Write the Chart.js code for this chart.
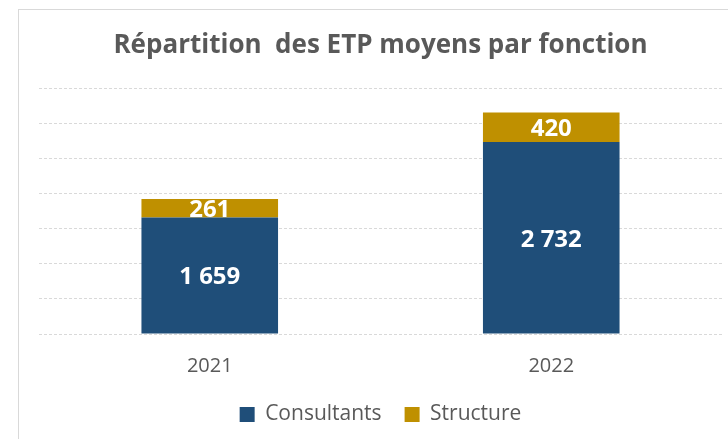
<!DOCTYPE html>
<html>
<head>
<meta charset="utf-8">
<script src="https://cdn.jsdelivr.net/npm/chart.js@4/dist/chart.umd.min.js"></script>
<style>
  html, body { margin: 0; padding: 0; background: #ffffff; overflow: hidden; }
  #frame { position: absolute; left: 18px; top: 9px; width: 760px; height: 460px; border: 1px solid #d9d9d9; box-sizing: border-box; }
  #c { position: absolute; left: 0; top: 0; }
</style>
</head>
<body>
<div id="frame"></div>
<canvas id="c" width="728" height="439"></canvas>
<script>
const categories = ['2021', '2022'];
const consultants = [1659, 2732];
const structure = [261, 420];
const seriesNames = ['Consultants', 'Structure'];
const chartTitle = 'Répartition  des ETP moyens par fonction';

const fmt = v => String(v).replace(/\B(?=(\d{3})+(?!\d))/g, ' ');

const labelPlugin = {
  id: 'barLabels',
  afterDatasetsDraw(chart) {
    const ctx = chart.ctx;
    ctx.save();
    ctx.fillStyle = '#ffffff';
    ctx.font = 'bold 24px "Open Sans"';
    ctx.textAlign = 'center';
    ctx.textBaseline = 'middle';
    chart.data.datasets.forEach((ds, di) => {
      const meta = chart.getDatasetMeta(di);
      meta.data.forEach((el, i) => {
        const y = (el.y + el.base) / 2;
        ctx.fillText(fmt(ds.data[i]), el.x, y + 2);
      });
    });
    ctx.restore();
  }
};

new Chart(document.getElementById('c'), {
  type: 'bar',
  data: {
    labels: categories,
    datasets: [
      { label: seriesNames[0], data: consultants, backgroundColor: '#1f4e79', borderWidth: 0 },
      { label: seriesNames[1], data: structure, backgroundColor: '#bf9000', borderWidth: 0 }
    ]
  },
  options: {
    responsive: false,
    animation: false,
    devicePixelRatio: 1,
    datasets: { bar: { categoryPercentage: 1, barPercentage: 0.4 } },
    layout: { padding: { left: 39, right: 6, top: 0, bottom: 4 } },
    plugins: {
      title: {
        display: true,
        text: chartTitle,
        color: '#595959',
        font: { family: '"Open Sans"', size: 26, weight: 'bold' },
        padding: { top: 30, bottom: 26.8 }
      },
      legend: {
        position: 'bottom',
        labels: {
          color: '#595959',
          font: { family: '"Open Sans"', size: 21 },
          boxWidth: 15,
          boxHeight: 15,
          padding: 23
        }
      },
      tooltip: { enabled: false }
    },
    scales: {
      x: {
        stacked: true,
        grid: { display: false, drawTicks: true, tickLength: 17 },
        border: { display: false },
        ticks: { color: '#595959', font: { family: '"Open Sans"', size: 20 }, padding: 3 }
      },
      y: {
        stacked: true,
        min: 0,
        max: 3500,
        ticks: { display: false, stepSize: 500 },
        grid: { color: '#d9d9d9', lineWidth: 1, drawTicks: false },
        border: { display: false, dash: [3, 2] }
      }
    }
  },
  plugins: [labelPlugin]
});
</script>
</body>
</html>
